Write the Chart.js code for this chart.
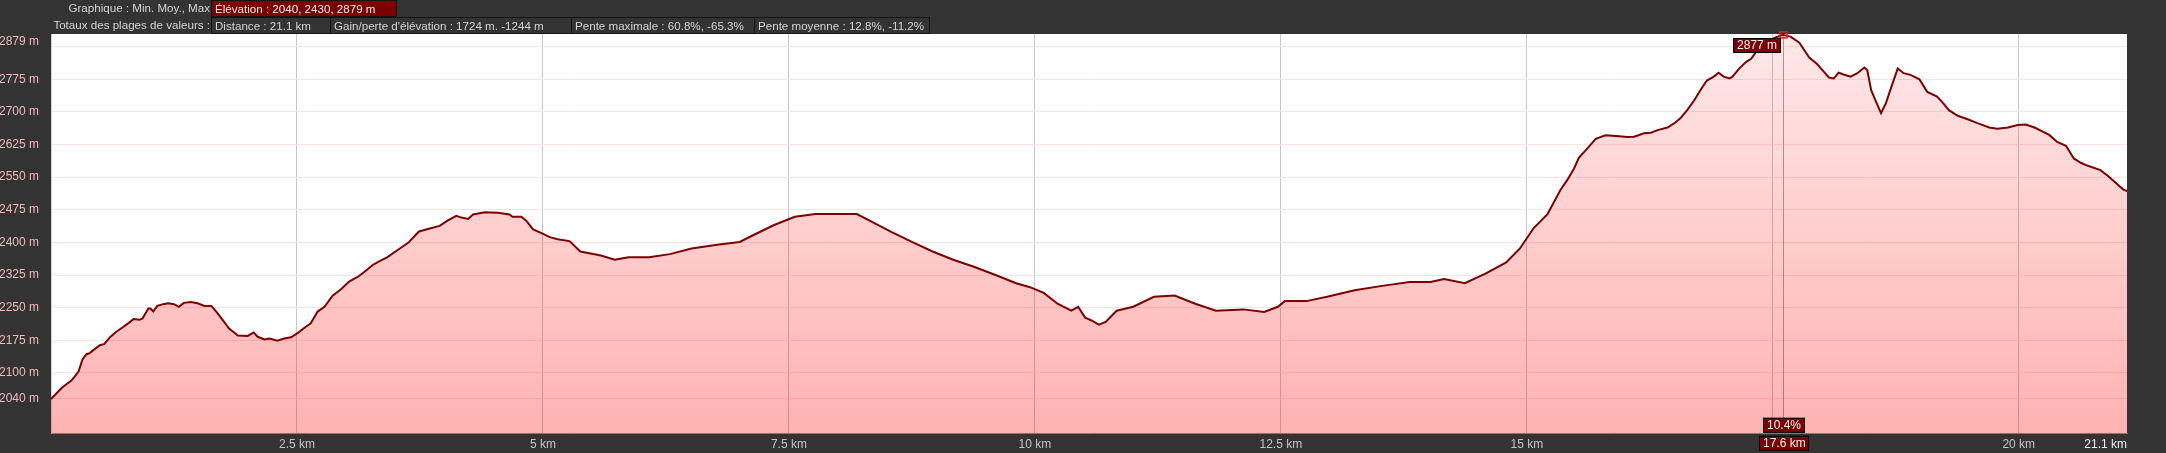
<!DOCTYPE html>
<html>
<head>
<meta charset="utf-8">
<script src="https://cdn.jsdelivr.net/npm/chart.js@4.4.0/dist/chart.umd.min.js"></script>
<style>
  html, body { margin: 0; padding: 0; background: #333333; }
  body { width: 2166px; height: 453px; position: relative; overflow: hidden; font-family: "Liberation Sans", Arial, sans-serif; }
  #wrap { position: absolute; left: 0; top: 0; width: 2166px; height: 453px; }
  .hdr { position: absolute; font-size: 11.6px; color: #d4d4d4; line-height: 15px; white-space: nowrap; }
  .lbl { text-align: right; }
  .box { border: 1px solid #141414; padding: 0 3px; box-sizing: border-box; height: 17px; line-height: 15px; }
  .red { background: #7b0000; color: #eeeeee; }
</style>
</head>
<body>
<div id="wrap"><canvas id="profileChart" width="2166" height="453"></canvas></div>

<div class="hdr lbl" style="left:20px; width:190px; top:0px; height:16px;">Graphique : Min. Moy., Max</div>
<div class="hdr box red" style="left:211px; top:0px; width:186px; height:17px;">Élévation : 2040, 2430, 2879 m</div>

<div class="hdr lbl" style="left:20px; width:190px; top:17px; height:17px;">Totaux des plages de valeurs :</div>
<div class="hdr box" style="left:211px; top:17px; width:120px;">Distance : 21.1 km</div>
<div class="hdr box" style="left:330px; top:17px; width:242px;">Gain/perte d'élévation : 1724 m. -1244 m</div>
<div class="hdr box" style="left:571px; top:17px; width:184px;">Pente maximale : 60.8%, -65.3%</div>
<div class="hdr box" style="left:754px; top:17px; width:176px;">Pente moyenne : 12.8%, -11.2%</div>

<script>
// profile: distance (km) and elevation (m)
const distanceKm = [0.00, 0.11, 0.21, 0.28, 0.32, 0.36, 0.39, 0.44, 0.50, 0.54, 0.60, 0.66, 0.73, 0.79, 0.84, 0.90, 0.93, 0.99, 1.01, 1.04,
  1.08, 1.14, 1.19, 1.25, 1.30, 1.35, 1.42, 1.49, 1.56, 1.63, 1.68, 1.75, 1.81, 1.90, 2.00, 2.06, 2.10, 2.17, 2.22, 2.30,
  2.37, 2.44, 2.51, 2.59, 2.64, 2.71, 2.78, 2.86, 2.95, 3.03, 3.12, 3.19, 3.27, 3.34, 3.42, 3.52, 3.63, 3.74, 3.85, 3.95,
  4.03, 4.12, 4.17, 4.24, 4.29, 4.41, 4.54, 4.66, 4.69, 4.78, 4.83, 4.90, 4.98, 5.07, 5.15, 5.27,
  5.38, 5.59, 5.73, 5.87, 6.08, 6.29, 6.51, 6.79, 7.00, 7.14, 7.35, 7.56, 7.77, 7.98, 8.19, 8.33, 8.54, 8.75, 8.96, 9.17,
  9.38, 9.60, 9.81, 9.95, 10.09, 10.23, 10.37, 10.44, 10.51, 10.58, 10.65, 10.72, 10.83, 11.00, 11.21, 11.42, 11.63, 11.84, 12.12, 12.33,
  12.47, 12.54, 12.76, 12.97, 13.25, 13.53, 13.81, 14.02, 14.16, 14.37, 14.58, 14.79, 14.93, 15.07, 15.21,
  15.34, 15.41, 15.48, 15.53, 15.60, 15.70, 15.80, 15.94, 16.02, 16.09, 16.19, 16.26, 16.33, 16.43, 16.50, 16.56, 16.63, 16.70, 16.77, 16.83,
  16.90, 16.95, 17.00, 17.06, 17.09, 17.16, 17.23, 17.28, 17.33, 17.39, 17.46, 17.53, 17.60, 17.68, 17.77, 17.87, 17.95, 18.02, 18.07, 18.12,
  18.17, 18.22, 18.29, 18.36, 18.43, 18.46, 18.50, 18.55, 18.60, 18.65, 18.70, 18.77, 18.83, 18.90, 18.99, 19.07, 19.17, 19.22, 19.29, 19.38,
  19.48, 19.58, 19.70, 19.78, 19.89, 19.99, 20.07, 20.16, 20.31, 20.39, 20.48, 20.56, 20.63, 20.68, 20.83, 20.91, 20.99, 21.06, 21.10];
const elevationM = [2040, 2066, 2083, 2103, 2131, 2143, 2145, 2154, 2164, 2166, 2182, 2194, 2205, 2215, 2224, 2222, 2225, 2248, 2248, 2241,
  2254, 2258, 2260, 2258, 2252, 2261, 2263, 2260, 2254, 2254, 2241, 2220, 2202, 2186, 2185, 2193, 2183, 2177, 2179, 2174,
  2179, 2182, 2192, 2206, 2214, 2241, 2252, 2277, 2293, 2310, 2321, 2333, 2348, 2357, 2366, 2382, 2399, 2425, 2432, 2438,
  2450, 2461, 2457, 2454, 2464, 2469, 2468, 2464, 2459, 2459, 2450, 2430, 2422, 2412, 2407, 2403,
  2379, 2370, 2360, 2366, 2366, 2373, 2386, 2395, 2401, 2417, 2440, 2459, 2465, 2465, 2465, 2449, 2424, 2401, 2379, 2360,
  2344, 2325, 2306, 2297, 2284, 2259, 2243, 2252, 2227, 2220, 2211, 2217, 2243, 2252, 2275, 2278, 2259, 2243, 2246, 2240,
  2252, 2265, 2265, 2275, 2290, 2300, 2309, 2309, 2316, 2306, 2328, 2354, 2386, 2433, 2465,
  2520, 2543, 2570, 2595, 2612, 2638, 2646, 2644, 2642, 2643, 2651, 2652, 2658, 2664, 2674, 2685, 2704, 2726, 2752, 2772,
  2781, 2790, 2781, 2777, 2781, 2800, 2815, 2822, 2838, 2854, 2863, 2871, 2877, 2873, 2859, 2825, 2810, 2792, 2779, 2777,
  2790, 2786, 2781, 2789, 2802, 2796, 2750, 2723, 2697, 2720, 2754, 2800, 2789, 2785, 2775, 2746, 2735, 2723, 2704, 2691,
  2683, 2674, 2664, 2661, 2664, 2670, 2671, 2664, 2647, 2631, 2622, 2593, 2583, 2578, 2566, 2552, 2536, 2522, 2518];

const xTickValues = [0, 2.5, 5, 7.5, 10, 12.5, 15, 17.5, 20, 21.1];
const yTickValues = [2040, 2100, 2175, 2250, 2325, 2400, 2475, 2550, 2625, 2700, 2775, 2850, 2879];
const yMin = 1960, yMax = 2879, xMax = 21.1;

// cursor readout
const cursorKm = 17.6;
const cursorElev = 2877;
const cursorGrade = '10.4%';

const points = distanceKm.map((d, i) => ({ x: d, y: elevationM[i] }));

function drawTag(ctx, text, x, y, align) {
  ctx.font = '12px "Liberation Sans", Arial, sans-serif';
  const w = Math.ceil(ctx.measureText(text).width) + 7;
  const h = 15;
  let left = x;
  if (align === 'center') left = x - w / 2;
  if (align === 'right') left = x - w;
  left = Math.round(left);
  ctx.fillStyle = '#7b0000';
  ctx.fillRect(left, y, w, h);
  ctx.strokeStyle = '#000000';
  ctx.lineWidth = 1;
  ctx.strokeRect(left + 0.5, y + 0.5, w - 1, h - 1);
  ctx.fillStyle = '#f4f4f4';
  ctx.textAlign = 'left';
  ctx.textBaseline = 'middle';
  ctx.fillText(text, left + 4, y + h / 2 + 0.5);
}

const plotBackground = {
  id: 'plotBackground',
  beforeDraw(chart) {
    const { ctx, chartArea } = chart;
    ctx.save();
    ctx.fillStyle = '#ffffff';
    ctx.fillRect(chartArea.left, chartArea.top, chartArea.right - chartArea.left, chartArea.bottom - chartArea.top);
    ctx.restore();
  }
};

const cursorPlugin = {
  id: 'cursorPlugin',
  beforeDatasetsDraw(chart) {
    const { ctx, chartArea, scales } = chart;
    const px = Math.round(scales.x.getPixelForValue(cursorKm)) + 0.5;
    ctx.save();
    ctx.strokeStyle = '#a4a4a4';
    ctx.lineWidth = 1;
    ctx.beginPath();
    ctx.moveTo(px, chartArea.top);
    ctx.lineTo(px, chartArea.bottom);
    ctx.stroke();
    ctx.restore();
  },
  afterDraw(chart) {
    const { ctx, chartArea, scales } = chart;
    const px = Math.round(scales.x.getPixelForValue(cursorKm)) + 0.5;
    const py = scales.y.getPixelForValue(cursorElev);
    ctx.save();
    ctx.strokeStyle = '#e02020';
    ctx.lineWidth = 1.5;
    ctx.strokeRect(px - 3.5, py - 3, 7, 6);
    drawTag(ctx, cursorElev + ' m', px - 3, chartArea.top + 4, 'right');
    drawTag(ctx, cursorGrade, px, chartArea.bottom - 16, 'center');
    drawTag(ctx, cursorKm + ' km', px, chartArea.bottom + 2, 'center');
    ctx.restore();
  }
};

const ctx = document.getElementById('profileChart').getContext('2d');
const profileChart = new Chart(ctx, {
  type: 'line',
  data: {
    datasets: [{
      label: 'Élévation',
      data: points,
      borderColor: '#7d0000',
      borderWidth: 2,
      pointRadius: 0,
      tension: 0,
      fill: 'start',
      backgroundColor: (c) => {
        const area = c.chart.chartArea;
        if (!area) return 'rgba(255,0,0,0.2)';
        const g = c.chart.ctx.createLinearGradient(0, area.top, 0, area.bottom);
        g.addColorStop(0, 'rgba(255,0,0,0.09)');
        g.addColorStop(1, 'rgba(255,0,0,0.30)');
        return g;
      }
    }]
  },
  options: {
    responsive: false,
    animation: false,
    events: [],
    layout: { padding: { top: 34, right: 39, left: 0, bottom: 0 } },
    plugins: { legend: { display: false }, tooltip: { enabled: false } },
    scales: {
      x: {
        type: 'linear',
        min: 0,
        max: xMax,
        afterBuildTicks: (scale) => { scale.ticks = xTickValues.map(v => ({ value: v })); },
        afterFit: (scale) => { scale.height = 19; },
        grid: {
          color: (c) => (c.tick && (c.tick.value === 0 || c.tick.value === xMax)) ? 'rgba(0,0,0,0)' : '#c8c8c8',
          drawTicks: false
        },
        border: { display: true, color: '#a87474' },
        ticks: {
          autoSkip: false,
          maxRotation: 0,
          align: 'inner',
          padding: 4,
          color: (c) => (c.tick && c.tick.value === xMax) ? '#f0f0f0' : '#c4c4c4',
          font: { family: '"Liberation Sans", Arial, sans-serif', size: 12 },
          callback: (v) => (v === 0 || v === 17.5) ? '' : v + ' km'
        }
      },
      y: {
        min: yMin,
        max: yMax,
        afterBuildTicks: (scale) => { scale.ticks = yTickValues.map(v => ({ value: v })); },
        afterFit: (scale) => { scale.width = 51; },
        grid: {
          color: (c) => (c.tick && c.tick.value === yMax) ? 'rgba(0,0,0,0)' : '#fde2e2',
          drawTicks: false
        },
        border: { display: true, color: '#d0d0d0' },
        ticks: {
          padding: 12,
          color: '#f2b9b9',
          font: { family: '"Liberation Sans", Arial, sans-serif', size: 12 },
          callback: (v) => {
            if (v === 2850) return '';
            if (v === yMax) return ['', v + ' m'];
            return v + ' m';
          }
        }
      }
    }
  },
  plugins: [plotBackground, cursorPlugin]
});
</script>
</body>
</html>
